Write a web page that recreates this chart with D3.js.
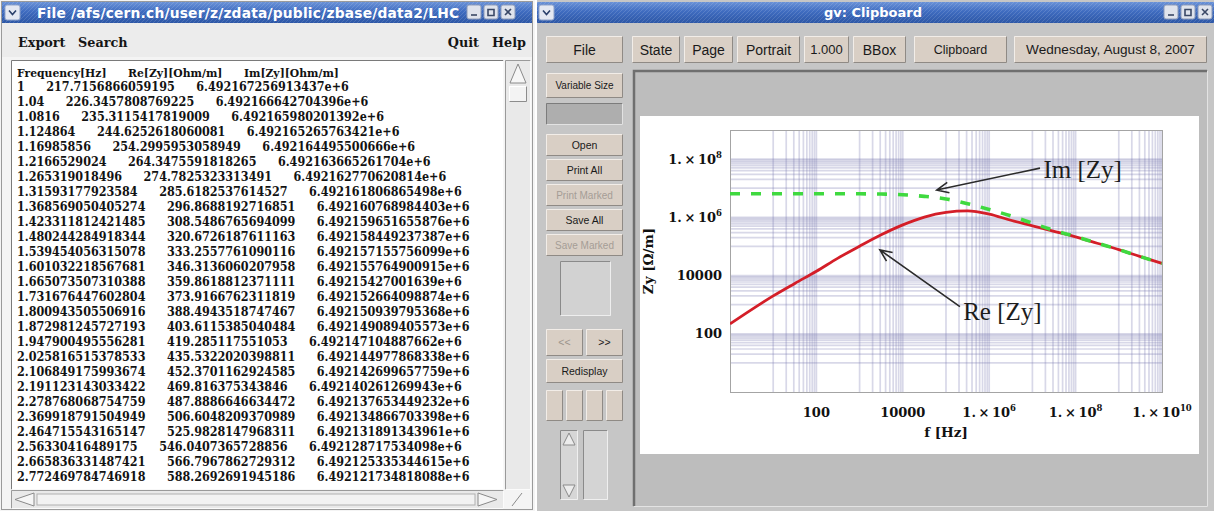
<!DOCTYPE html>
<html>
<head>
<meta charset="utf-8">
<script src="https://cdn.jsdelivr.net/npm/d3@7"></script>
<style>
  html, body { margin: 0; padding: 0; background: #ffffff; overflow: hidden; }
  svg { display: block; }
</style>
</head>
<body>
<svg id="screen" width="1214" height="511"></svg>
<script>
// ---------------------------------------------------------------------------
// Impedance curves (frequency in Hz, Zy in Ohm/m), half-decade samples
const curveFreq = [1, 3.16, 10, 31.6, 100, 316, 1e3, 3.16e3, 1e4, 3.16e4, 1e5,
                   3.16e5, 1e6, 3.16e6, 1e7, 3.16e7, 1e8, 3.16e8, 1e9, 3.16e9, 1e10];
const reZy = [217.7, 676, 2000, 5370, 14100, 39800, 102000, 251000, 550000, 1020000,
              1480000, 1660000, 1290000, 794000, 513000, 331000, 214000, 129000,
              77600, 44700, 26300];
const imZy = [6492167, 6492100, 6491900, 6491000, 6488000, 6480000, 6440000, 6300000,
              6000000, 5250000, 4270000, 2950000, 1860000, 1120000, 630000, 355000,
              219000, 130000, 78000, 44800, 26300];

// Axis ticks
const xTickValues = [100, 1e4, 1e6, 1e8, 1e10];
const yTickValues = [100, 1e4, 1e6, 1e8];

// Text listing of the first rows of the table
const tableHeader = ["Frequency[Hz]", "Re[Zy][Ohm/m]", "Im[Zy][Ohm/m]"];
const tableFreq = ["1", "1.04", "1.0816", "1.124864", "1.16985856", "1.2166529024",
  "1.265319018496", "1.31593177923584", "1.368569050405274", "1.423311812421485",
  "1.480244284918344", "1.539454056315078", "1.601032218567681", "1.665073507310388",
  "1.731676447602804", "1.800943505506916", "1.872981245727193", "1.947900495556281",
  "2.025816515378533", "2.106849175993674", "2.191123143033422", "2.278768068754759",
  "2.369918791504949", "2.464715543165147", "2.56330416489175", "2.665836331487421",
  "2.772469784746918"];
const tableRe = ["217.7156866059195", "226.3457808769225", "235.3115417819009",
  "244.6252618060081", "254.2995953058949", "264.3475591818265", "274.7825323313491",
  "285.6182537614527", "296.8688192716851", "308.5486765694099", "320.6726187611163",
  "333.2557761090116", "346.3136060207958", "359.8618812371111", "373.9166762311819",
  "388.4943518747467", "403.6115385040484", "419.285117551053", "435.5322020398811",
  "452.3701162924585", "469.816375343846", "487.8886646634472", "506.6048209370989",
  "525.9828147968311", "546.0407365728856", "566.7967862729312", "588.2692691945186"];
const tableIm = ["6.492167256913437e+6", "6.492166642704396e+6", "6.492165980201392e+6",
  "6.492165265763421e+6", "6.492164495500666e+6", "6.492163665261704e+6",
  "6.492162770620814e+6", "6.492161806865498e+6", "6.492160768984403e+6",
  "6.492159651655876e+6", "6.492158449237387e+6", "6.492157155756099e+6",
  "6.492155764900915e+6", "6.49215427001639e+6", "6.492152664098874e+6",
  "6.492150939795368e+6", "6.492149089405573e+6", "6.492147104887662e+6",
  "6.492144977868338e+6", "6.492142699657759e+6", "6.492140261269943e+6",
  "6.492137653449232e+6", "6.492134866703398e+6", "6.492131891343961e+6",
  "6.492128717534098e+6", "6.492125335344615e+6", "6.492121734818088e+6"];

// Curve annotations, anchored in data coordinates
const annotations = [
  { label: "Im [Zy]", textF: 1.8e7, textV: 2.3e7, tailF: 1.5e7, tailV: 4.9e7, tipF: 6.1e4, tipV: 8.7e6 },
  { label: "Re [Zy]", textF: 2.5e5, textV: 290, tailF: 2.1e5, tailV: 850, tipF: 2950, tipV: 7.6e4 }
];

// ---------------------------------------------------------------------------
const svg = d3.select("#screen");
const defs = svg.append("defs");

const titleGrad = defs.append("linearGradient").attr("id", "titleGrad")
  .attr("x1", 0).attr("y1", 0).attr("x2", 0).attr("y2", 1);
titleGrad.append("stop").attr("offset", "0%").attr("stop-color", "#6a92d8");
titleGrad.append("stop").attr("offset", "45%").attr("stop-color", "#3f6cc0");
titleGrad.append("stop").attr("offset", "100%").attr("stop-color", "#2d57a6");

const hatch = defs.append("pattern").attr("id", "hatch").attr("patternUnits", "userSpaceOnUse")
  .attr("width", 4).attr("height", 4);
hatch.append("path").attr("d", "M0,4 L4,0").attr("stroke", "rgba(255,255,255,0.13)").attr("stroke-width", 1);

const SANS = "'Liberation Sans', Arial, sans-serif";
const SERIF = "'DejaVu Serif', serif";

function bevelBox(g, x, y, w, h, fill, up = true, hi = "#f2ede8", lo = "#8f8a85") {
  g.append("rect").attr("x", x).attr("y", y).attr("width", w).attr("height", h).attr("fill", fill);
  g.append("path").attr("d", `M${x + 0.5},${y + h - 0.5} V${y + 0.5} H${x + w - 0.5}`)
    .attr("fill", "none").attr("stroke", up ? hi : lo);
  g.append("path").attr("d", `M${x + 0.5},${y + h - 0.5} H${x + w - 0.5} V${y + 0.5}`)
    .attr("fill", "none").attr("stroke", up ? lo : hi);
}

function button(g, x, y, w, h, label, size, color = "#1a1a1a") {
  bevelBox(g, x, y, w, h, "#d9cfc5");
  if (label) {
    g.append("text").attr("x", x + w / 2).attr("y", y + h / 2 + size * 0.36)
      .attr("text-anchor", "middle").attr("font-family", SANS).attr("font-size", size)
      .attr("fill", color).text(label);
  }
}

function titleBar(g, x, y, w, h) {
  g.append("rect").attr("x", x).attr("y", y).attr("width", w).attr("height", h).attr("fill", "url(#titleGrad)");
  g.append("rect").attr("x", x).attr("y", y).attr("width", w).attr("height", h).attr("fill", "url(#hatch)");
}

function menuIcon(g, x, y) {
  g.append("rect").attr("x", x).attr("y", y).attr("width", 15).attr("height", 15).attr("rx", 2)
    .attr("fill", "#e4e8f2").attr("stroke", "#8fa3c9");
  g.append("path").attr("d", `M${x + 4},${y + 5.5} L${x + 7.5},${y + 9.5} L${x + 11},${y + 5.5}`)
    .attr("fill", "none").attr("stroke", "#2a3f6a").attr("stroke-width", 1.6);
}

function windowButtons(g, x0, y) {
  const icons = [
    (x) => `M${x + 4},${y + 10} H${x + 10}`,
    (x) => `M${x + 4},${y + 4.5} H${x + 10} V${y + 10.5} H${x + 4} Z`,
    (x) => `M${x + 4},${y + 4} L${x + 10},${y + 10} M${x + 10},${y + 4} L${x + 4},${y + 10}`
  ];
  icons.forEach((ic, i) => {
    const x = x0 + i * 17;
    g.append("rect").attr("x", x).attr("y", y).attr("width", 14).attr("height", 14).attr("rx", 2)
      .attr("fill", "#dfe3ec").attr("stroke", "#8d9bb8");
    g.append("path").attr("d", ic(x)).attr("fill", "none").attr("stroke", "#3a4866").attr("stroke-width", 1.6);
  });
}

// ---------------------------------------------------------------------------
// Left window: text listing
const left = svg.append("g");
left.append("rect").attr("x", 0).attr("y", 0).attr("width", 535).attr("height", 511).attr("fill", "#f4f4f4");
left.append("rect").attr("x", 1.5).attr("y", 1.5).attr("width", 531).attr("height", 508)
  .attr("fill", "none").attr("stroke", "#9a9a9a");
titleBar(left, 2, 2, 530, 21);
menuIcon(left, 5, 5);
left.append("clipPath").attr("id", "leftTitleClip").append("rect")
  .attr("x", 24).attr("y", 2).attr("width", 438).attr("height", 21);
left.append("text").attr("x", 37).attr("y", 18).attr("clip-path", "url(#leftTitleClip)")
  .attr("font-family", "'DejaVu Sans', sans-serif").attr("font-weight", "bold").attr("font-size", 13.8)
  .attr("letter-spacing", 0.2).attr("fill", "#ffffff")
  .text("File /afs/cern.ch/user/z/zdata/public/zbase/data2/LHC");
windowButtons(left, 467, 5);

// menu bar
left.append("rect").attr("x", 2).attr("y", 23).attr("width", 530).attr("height", 34).attr("fill", "#ececec");
[["Export", 18, "start"], ["Search", 78, "start"], ["Quit", 479, "end"], ["Help", 526, "end"]].forEach(([t, x, a]) => {
  left.append("text").attr("x", x).attr("y", 47).attr("text-anchor", a)
    .attr("font-family", SERIF).attr("font-weight", "bold").attr("font-size", 12.8)
    .attr("fill", "#151515").text(t);
});

// text pane
bevelBox(left, 11, 60, 493, 430, "#ffffff", false, "#f8f8f8", "#7a7a7a");
const pane = left.append("g").attr("font-family", SERIF).attr("font-weight", "bold").attr("fill", "#121212");
const colGap = 21.5;
function rowText(cells, yBase, size, stretch) {
  let x = 17;
  cells.forEach((c) => {
    const t = pane.append("text").attr("transform", `translate(${x},${yBase}) scale(1,${stretch})`)
      .attr("font-size", size).text(c);
    x += t.node().getComputedTextLength() + colGap;
  });
}
rowText(tableHeader, 77, 10.8, 1.05);
tableFreq.forEach((f, i) => rowText([f, tableRe[i], tableIm[i]], 91 + i * 15, 11.2, 1.12));

// vertical scrollbar
bevelBox(left, 505, 60, 26, 430, "#e9e9e9", false, "#fbfbfb", "#9a9a9a");
left.append("path").attr("d", "M510,83 L518,64 L526,83 Z").attr("fill", "#f6f6f6").attr("stroke", "#8a8a8a");
bevelBox(left, 509, 86, 18, 16, "#f3f3f3", true, "#ffffff", "#8c8c8c");
// horizontal scrollbar
bevelBox(left, 11, 490, 493, 19, "#e9e9e9", false, "#fbfbfb", "#9a9a9a");
left.append("path").attr("d", "M34,493 L15,499.5 L34,506 Z").attr("fill", "#f6f6f6").attr("stroke", "#8a8a8a");
left.append("path").attr("d", "M478,493 L497,499.5 L478,506 Z").attr("fill", "#f6f6f6").attr("stroke", "#8a8a8a");
left.append("rect").attr("x", 37).attr("y", 494).attr("width", 438).attr("height", 11).attr("fill", "#f2f2f2").attr("stroke", "#b0b0b0");
left.append("path").attr("d", "M512,506 L522,493").attr("stroke", "#8a8a8a").attr("fill", "none");

// ---------------------------------------------------------------------------
// Right window: gv
const gv = svg.append("g");
gv.append("rect").attr("x", 537).attr("y", 0).attr("width", 677).attr("height", 511).attr("fill", "#c6c6c6");
titleBar(gv, 537, 2, 677, 21);
menuIcon(gv, 539, 5);
gv.append("text").attr("x", 873).attr("y", 17).attr("text-anchor", "middle")
  .attr("font-family", "'DejaVu Sans', sans-serif").attr("font-weight", "bold").attr("font-size", 13)
  .attr("fill", "#ffffff").text("gv: Clipboard");
windowButtons(gv, 1164, 5);

// top row of buttons
button(gv, 546, 36, 77, 27, "File", 14);
button(gv, 632, 36, 48, 27, "State", 14);
button(gv, 684, 36, 49, 27, "Page", 14);
button(gv, 737, 36, 63, 27, "Portrait", 14);
button(gv, 804, 36, 45, 27, "1.000", 13);
button(gv, 853, 36, 53, 27, "BBox", 14);
button(gv, 914, 36, 93, 27, "Clipboard", 12.5);
button(gv, 1014, 36, 193, 27, "Wednesday, August 8, 2007", 13.6);

// left column controls
button(gv, 546, 73, 77, 25, "Variable Size", 10);
bevelBox(gv, 546, 103, 77, 22, "#aeaeae", false, "#e2e2e2", "#7c7c7c");
button(gv, 546, 134, 77, 22, "Open", 10.5);
button(gv, 546, 159, 77, 22, "Print All", 10.5);
button(gv, 546, 184, 77, 22, "Print Marked", 10, "#a59d96");
button(gv, 546, 209, 77, 22, "Save All", 10.5);
button(gv, 546, 234, 77, 22, "Save Marked", 10, "#a59d96");
bevelBox(gv, 560, 261, 51, 55, "#d2d2d2", false, "#eeeeee", "#8a8a8a");
button(gv, 546, 329, 37, 27, "<<", 10.5, "#9c948c");
button(gv, 586, 329, 37, 27, ">>", 10.5);
button(gv, 546, 359, 77, 24, "Redisplay", 10.5);
[546, 566, 586, 606].forEach((x) => button(gv, x, 390, 17, 31, null, 10));
bevelBox(gv, 560, 430, 18, 70, "#d6d6d6", false, "#efefef", "#8a8a8a");
gv.append("path").attr("d", "M563,445 L569,433 L575,445 Z").attr("fill", "#ececec").attr("stroke", "#8a8a8a");
gv.append("path").attr("d", "M563,485 L569,497 L575,485 Z").attr("fill", "#ececec").attr("stroke", "#8a8a8a");
bevelBox(gv, 583, 430, 25, 70, "#d4d4d4", false, "#efefef", "#8a8a8a");

// viewing area and page
gv.append("rect").attr("x", 633).attr("y", 70).attr("width", 575).attr("height", 437).attr("fill", "#bdbdbd");
gv.append("path").attr("d", "M634,506 V71 H1207").attr("fill", "none").attr("stroke", "#6f6f6f").attr("stroke-width", 2.5);
gv.append("path").attr("d", "M634,506.5 H1207.5 V71").attr("fill", "none").attr("stroke", "#e3e3e3");
gv.append("rect").attr("x", 640).attr("y", 116).attr("width", 559).attr("height", 338).attr("fill", "#ffffff");

// ---------------------------------------------------------------------------
// Chart
const x = d3.scaleLog().domain([1, 1e10]).range([730, 1162]);
const y = d3.scaleLog().domain([1, 1e9]).range([392, 130]);
const chart = gv.append("g");

// grid: 10^k .. 10^(k+1) in steps of 10^k for odd k
const gridX = [], gridY = [];
for (let k = 1; k <= 9; k += 2) for (let j = 1; j <= 10; j++) gridX.push(j * Math.pow(10, k));
for (let k = 1; k <= 7; k += 2) for (let j = 1; j <= 10; j++) gridY.push(j * Math.pow(10, k));
const gridColor = "rgba(120,120,175,0.29)";
const gridWidth = 1.7;
chart.append("g").selectAll("line").data(gridX).join("line")
  .attr("x1", (d) => x(d)).attr("x2", (d) => x(d))
  .attr("y1", y.range()[1]).attr("y2", y.range()[0])
  .attr("stroke", gridColor).attr("stroke-width", gridWidth);
chart.append("g").selectAll("line").data(gridY).join("line")
  .attr("y1", (d) => y(d)).attr("y2", (d) => y(d))
  .attr("x1", x.range()[0]).attr("x2", x.range()[1])
  .attr("stroke", gridColor).attr("stroke-width", gridWidth);

// frame
chart.append("rect").attr("x", x.range()[0] + 0.5).attr("y", y.range()[1] + 0.5)
  .attr("width", x.range()[1] - x.range()[0]).attr("height", y.range()[0] - y.range()[1])
  .attr("fill", "none").attr("stroke", "#a4a4a4");

// tick labels
function tickText(sel, v) {
  const e = Math.round(Math.log10(v));
  if (e < 5) { sel.text(String(v)); return; }
  sel.text("1.\u2009\u00d7\u200910");
  sel.append("tspan").attr("dy", -6).attr("font-size", 8.5).text(e);
}
const tickFont = (s) => s.attr("font-family", SERIF).attr("font-weight", "bold").attr("font-size", 13).attr("fill", "#111");
xTickValues.forEach((v) => {
  const t = chart.append("text").attr("x", x(v)).attr("y", 417).attr("text-anchor", "middle").call(tickFont);
  tickText(t, v);
});
yTickValues.forEach((v) => {
  const t = chart.append("text").attr("x", 722).attr("y", y(v) + 4.5).attr("text-anchor", "end").call(tickFont);
  tickText(t, v);
});

// axis titles
chart.append("text").attr("x", (x.range()[0] + x.range()[1]) / 2).attr("y", 437)
  .attr("text-anchor", "middle").attr("font-family", SERIF).attr("font-weight", "bold")
  .attr("font-size", 13.5).attr("fill", "#111").text("f [Hz]");
chart.append("text")
  .attr("transform", `translate(653,${(y.range()[0] + y.range()[1]) / 2}) rotate(-90)`)
  .attr("text-anchor", "middle").attr("font-family", SERIF).attr("font-weight", "bold")
  .attr("font-size", 13.5).attr("fill", "#111").text("Zy [\u03a9/m]");

// curves
chart.append("clipPath").attr("id", "plotClip").append("rect")
  .attr("x", x.range()[0]).attr("y", y.range()[1])
  .attr("width", x.range()[1] - x.range()[0]).attr("height", y.range()[0] - y.range()[1]);
const line = d3.line().x((d) => x(d[0])).y((d) => y(d[1])).curve(d3.curveMonotoneX);
const plot = chart.append("g").attr("clip-path", "url(#plotClip)");
plot.append("path").datum(d3.zip(curveFreq, reZy)).attr("d", line)
  .attr("fill", "none").attr("stroke", "#d41e28").attr("stroke-width", 2.8).attr("stroke-linecap", "butt");
plot.append("path").datum(d3.zip(curveFreq, imZy)).attr("d", line)
  .attr("fill", "none").attr("stroke", "#3fd93f").attr("stroke-width", 3.6)
  .attr("stroke-dasharray", "10,11");

// annotations
annotations.forEach((a) => {
  const tx = x(a.tipF), ty = y(a.tipV), sx = x(a.tailF), sy = y(a.tailV);
  const ang = Math.atan2(sy - ty, sx - tx);
  const head = 13, spread = 0.42;
  chart.append("path")
    .attr("d", `M${sx},${sy} L${tx},${ty} M${tx + head * Math.cos(ang - spread)},${ty + head * Math.sin(ang - spread)} L${tx},${ty} L${tx + head * Math.cos(ang + spread)},${ty + head * Math.sin(ang + spread)}`)
    .attr("fill", "none").attr("stroke", "#2b2b2b").attr("stroke-width", 1.6);
  chart.append("text").attr("x", x(a.textF)).attr("y", y(a.textV))
    .attr("font-family", "'Liberation Serif', 'Times New Roman', serif").attr("font-size", 25)
    .attr("fill", "#1c1c1c").text(a.label);
});
</script>
</body>
</html>
